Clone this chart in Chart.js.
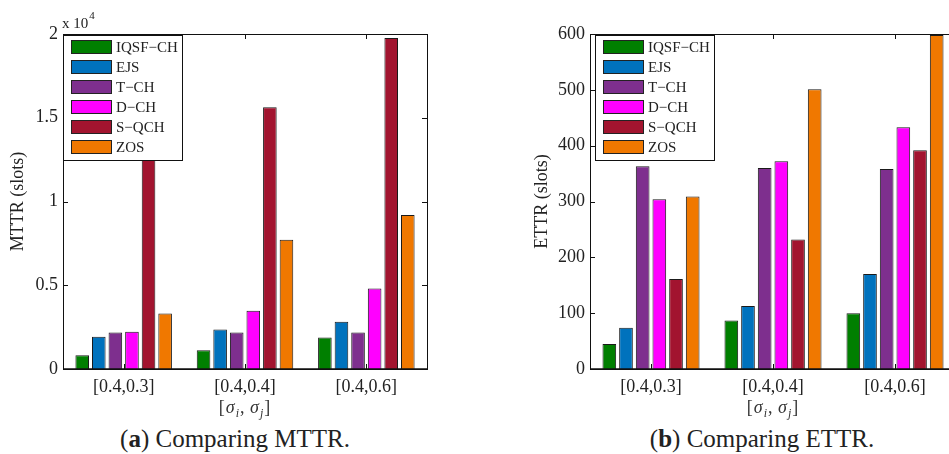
<!DOCTYPE html>
<html>
<head>
<meta charset="utf-8">
<script src="https://cdn.jsdelivr.net/npm/chart.js@4/dist/chart.umd.min.js"></script>
<style>
  body { margin: 0; width: 949px; height: 454px; overflow: hidden; background: #fff; position: relative; }
  .box { position: absolute; top: 0; width: 475px; height: 420px; }
  .caption { position: absolute; top: 424px; width: 470px; text-align: center; font: 25px "Liberation Serif", serif; line-height: 30px; color: #222; }
</style>
</head>
<body>
<div class="box" style="left:0"><canvas id="mttr-chart"></canvas></div>
<div class="box" style="left:520px"><canvas id="ettr-chart"></canvas></div>
<div class="caption" style="left:0">(<b>a</b>) Comparing MTTR.</div>
<div class="caption" style="left:527px">(<b>b</b>) Comparing ETTR.</div>
<script>
// x categories: [sigma_i, sigma_j]
let groups = ["[0.4,0.3]", "[0.4,0.4]", "[0.4,0.6]"];

// methods and their colours
let methods = ["IQSF\u2212CH", "EJS", "T\u2212CH", "D\u2212CH", "S\u2212QCH", "ZOS"];
let methodColours = ["#007f00", "#0072bd", "#7e2f8e", "#ff00ff", "#a2142f", "#f07800"];

// MTTR (slots), one array per method
let mttrIQSF = [820, 1120, 1880];
let mttrEJS = [1920, 2360, 2820];
let mttrTCH = [2180, 2180, 2180];
let mttrDCH = [2220, 3480, 4800];
let mttrSQCH = [13200, 15620, 19760];
let mttrZOS = [3320, 7720, 9200];

// ETTR (slots), one array per method
let ettrIQSF = [45, 87, 100];
let ettrEJS = [74, 113, 170];
let ettrTCH = [363, 360, 358];
let ettrDCH = [304, 372, 433];
let ettrSQCH = [161, 232, 392];
let ettrZOS = [309, 501, 598];

const serif = '"Liberation Serif", "Times New Roman", serif';
const ink = "#222";

// box round the plot with inward ticks, like matlab
const framePlugin = {
    id: "frame",
    afterDatasetsDraw(chart) {
        const ctx = chart.ctx;
        const a = chart.chartArea;
        const y = chart.scales.y;
        const x = chart.scales.x;
        ctx.save();
        ctx.strokeStyle = "#111";
        ctx.lineWidth = 1;
        ctx.strokeRect(a.left + 0.5, a.top + 0.5, a.right - a.left, a.bottom - a.top);
        ctx.beginPath();
        y.ticks.forEach(t => {
            const py = Math.round(y.getPixelForValue(t.value)) + 0.5;
            ctx.moveTo(a.left, py); ctx.lineTo(a.left + 5, py);
            ctx.moveTo(a.right, py); ctx.lineTo(a.right - 5, py);
        });
        groups.forEach((g, i) => {
            const px = Math.round(x.getPixelForValue(i)) + 0.5;
            ctx.moveTo(px, a.top); ctx.lineTo(px, a.top + 5);
            ctx.moveTo(px, a.bottom); ctx.lineTo(px, a.bottom - 5);
        });
        ctx.stroke();
        ctx.lineWidth = 1.5;
        ctx.beginPath();
        ctx.moveTo(a.left, a.bottom); ctx.lineTo(a.right, a.bottom);
        ctx.stroke();
        ctx.restore();
    },
    afterDraw(chart) {
        const ctx = chart.ctx;
        const a = chart.chartArea;
        const opts = chart.options.plugins.frame;
        ctx.save();

        // legend box in the top left corner
        const bx = a.left + opts.legendOffset;
        const by = a.top + 1;
        ctx.fillStyle = "#fff";
        ctx.fillRect(bx, by, 119, 125);
        ctx.strokeStyle = "#111";
        ctx.lineWidth = 1;
        ctx.strokeRect(bx + 0.5, by + 0.5, 119, 125);
        ctx.font = "15px " + serif;
        ctx.textBaseline = "middle";
        chart.data.datasets.forEach((ds, i) => {
            const cy = by + 12 + i * 20;
            ctx.fillStyle = ds.backgroundColor;
            ctx.fillRect(bx + 8, cy - 7, 41, 14);
            ctx.strokeStyle = "#222";
            ctx.strokeRect(bx + 8.5, cy - 6.5, 40, 13);
            ctx.fillStyle = ink;
            ctx.fillText(ds.label, bx + 53, cy + 1);
        });

        // x axis title [sigma_i, sigma_j]
        const parts = [
            ["[", "18px " + serif, 0],
            ["\u03c3", "italic 18px " + serif, 0],
            ["i", "italic 12px " + serif, 4],
            [", ", "18px " + serif, 0],
            ["\u03c3", "italic 18px " + serif, 0],
            ["j", "italic 12px " + serif, 4],
            ["]", "18px " + serif, 0]
        ];
        let w = 0;
        parts.forEach(p => { ctx.font = p[1]; w += ctx.measureText(p[0]).width + 1; });
        let tx = (a.left + a.right) / 2 - w / 2;
        ctx.fillStyle = "#333";
        ctx.textBaseline = "alphabetic";
        parts.forEach(p => {
            ctx.font = p[1];
            ctx.fillText(p[0], tx, 413 + p[2]);
            tx += ctx.measureText(p[0]).width + 1;
        });

        // exponent label above the axis
        if (opts.exponent) {
            ctx.fillStyle = ink;
            ctx.font = "15px " + serif;
            ctx.fillText("x 10", a.left - 1, 28);
            const ew = ctx.measureText("x 10").width;
            ctx.font = "11px " + serif;
            ctx.fillText("4", a.left - 1 + ew + 1, 19);
        }
        ctx.restore();
    }
};

function makeDatasets(series) {
    return series.map((values, i) => ({
        label: methods[i],
        data: values,
        backgroundColor: methodColours[i],
        borderColor: "#1a1a1a",
        borderWidth: 1,
        borderSkipped: "start",
        categoryPercentage: 0.82,
        barPercentage: 0.82
    }));
}

function loadChart(id, series, yMax, yStep, yLabel, tickFormat, axisWidth, rightPad, titlePad, legendOffset, exponent) {
    new Chart(id, {
        type: "bar",
        data: {
            labels: groups,
            datasets: makeDatasets(series)
        },
        options: {
            responsive: true,
            maintainAspectRatio: false,
            animation: false,
            layout: { padding: { top: 34, right: rightPad, left: 0, bottom: 0 } },
            plugins: {
                legend: { display: false },
                tooltip: { enabled: false },
                frame: { legendOffset: legendOffset, exponent: exponent }
            },
            scales: {
                x: {
                    grid: { display: false, drawTicks: false },
                    border: { display: false },
                    ticks: { color: ink, font: { family: serif, size: 18 }, padding: 7 },
                    afterFit(scale) { scale.height = 51; }
                },
                y: {
                    min: 0,
                    max: yMax,
                    grid: { display: false, drawTicks: false },
                    border: { display: false },
                    ticks: { stepSize: yStep, color: ink, font: { family: serif, size: 18 }, padding: 5, callback: tickFormat },
                    title: { display: true, text: yLabel, color: ink, font: { family: serif, size: 18 }, padding: { top: titlePad, bottom: 0 } },
                    afterFit(scale) { scale.width = axisWidth; }
                }
            }
        },
        plugins: [framePlugin]
    });
}

loadChart("mttr-chart",
    [mttrIQSF, mttrEJS, mttrTCH, mttrDCH, mttrSQCH, mttrZOS],
    20000, 5000, "MTTR (slots)", v => v / 10000, 63, 48, 7, 0, true);

loadChart("ettr-chart",
    [ettrIQSF, ettrEJS, ettrTCH, ettrDCH, ettrSQCH, ettrZOS],
    600, 100, "ETTR (slots)", v => v, 70, 39, 11, 5, false);
</script>
</body>
</html>
